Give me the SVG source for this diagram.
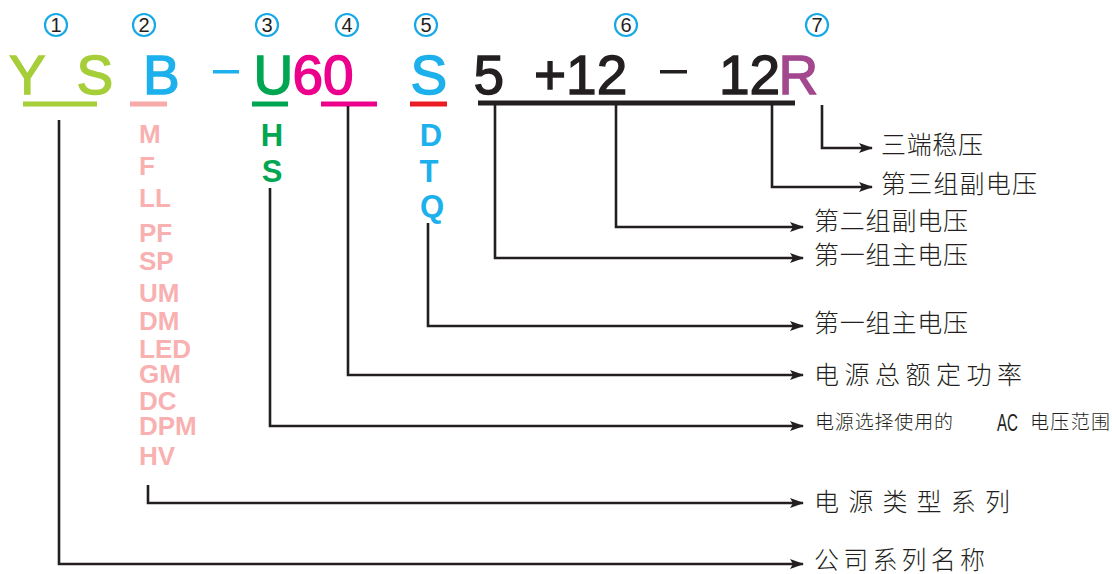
<svg xmlns="http://www.w3.org/2000/svg" width="1112" height="574" viewBox="0 0 1112 574">
<style>
.big{font-family:"Liberation Sans",Arial,sans-serif;font-size:55px;stroke-width:1.4;paint-order:stroke}
.opt{font-family:"Liberation Sans",Arial,sans-serif;font-weight:bold}
.pink{fill:#f8b0b0;font-size:26px}
.num{font-family:"Liberation Sans",Arial,sans-serif;font-size:20px;fill:#231f20;text-anchor:middle}
.ring{fill:none;stroke:#16a9e5;stroke-width:2.2}
.lbl{font-family:"Noto Sans CJK SC","Liberation Sans",sans-serif;font-size:25px;fill:#231f20;font-weight:300}
.sm{font-size:19px}
.conn{fill:none;stroke:#231f20;stroke-width:2.6}
</style>
<defs>
<marker id="ah" markerWidth="14" markerHeight="10" refX="13" refY="5" orient="auto" markerUnits="userSpaceOnUse">
<path d="M0,0 L14,5 L0,10 L3,5 Z" fill="#231f20"/>
</marker>
</defs>
<rect width="1112" height="574" fill="#fff"/>

<g id="numbers">
<circle class="ring" cx="56" cy="25" r="11"/><text class="num" x="56" y="32">1</text>
<circle class="ring" cx="144" cy="25" r="11"/><text class="num" x="144" y="32">2</text>
<circle class="ring" cx="267" cy="25" r="11"/><text class="num" x="267" y="32">3</text>
<circle class="ring" cx="347" cy="25" r="11"/><text class="num" x="347" y="32">4</text>
<circle class="ring" cx="426" cy="25" r="11"/><text class="num" x="426" y="32">5</text>
<circle class="ring" cx="626" cy="25" r="11"/><text class="num" x="626" y="32">6</text>
<circle class="ring" cx="817" cy="25" r="11"/><text class="num" x="817" y="32">7</text>
</g>

<g id="code">
<text class="big" x="9" y="94" fill="#a6ce39" stroke="#a6ce39">Y</text>
<text class="big" x="76.5" y="94" fill="#a6ce39" stroke="#a6ce39">S</text>
<rect x="23" y="101.5" width="74" height="5" fill="#a6ce39"/>
<text class="big" x="143" y="94" fill="#1cb0ec" stroke="#1cb0ec">B</text>
<rect x="130" y="101.5" width="37" height="5" fill="#f7aaa9"/>
<rect x="213" y="70" width="26" height="3.5" fill="#1cb0ec"/>
<text class="big" x="253.5" y="94" fill="#00a651" stroke="#00a651">U</text>
<rect x="252" y="101.5" width="36" height="5" fill="#00a651"/>
<text class="big" x="292.5" y="94" fill="#ec008c" stroke="#ec008c">60</text>
<rect x="321" y="101.5" width="56" height="5" fill="#ec008c"/>
<text class="big" x="410.5" y="94" fill="#1cb0ec" stroke="#1cb0ec">S</text>
<rect x="410" y="101.5" width="37" height="5" fill="#ed1c24"/>
<text class="big" x="473.5" y="94" fill="#231f20" stroke="#231f20">5</text>
<text class="big" x="534" y="94" fill="#231f20" stroke="#231f20">+12</text>
<rect x="660" y="70" width="27" height="3.5" fill="#231f20"/>
<text class="big" x="719" y="94" fill="#231f20" stroke="#231f20">12</text>
<text class="big" x="778.6" y="94" fill="#a3488e" stroke="#a3488e">R</text>
<rect x="478" y="100.5" width="317" height="5" fill="#231f20"/>
</g>

<g id="type-options" class="opt pink">
<text x="139" y="143">M</text>
<text x="139" y="175">F</text>
<text x="139" y="207">LL</text>
<text x="139" y="242">PF</text>
<text x="139" y="270">SP</text>
<text x="139" y="302">UM</text>
<text x="139" y="330">DM</text>
<text x="139" y="358">LED</text>
<text x="139" y="383">GM</text>
<text x="139" y="410">DC</text>
<text x="139" y="435">DPM</text>
<text x="139" y="465">HV</text>
</g>

<g id="ac-options" class="opt" fill="#00a651" font-size="31" text-anchor="middle">
<text x="272" y="146">H</text>
<text x="272" y="182">S</text>
</g>

<g id="output-options" class="opt" fill="#1cb0ec" font-size="31" text-anchor="middle">
<text x="431" y="146">D</text>
<text x="429" y="182">T</text>
<text x="432" y="217">Q</text>
</g>

<g id="connectors">
<path class="conn" d="M822,105 V148 H872" marker-end="url(#ah)"/>
<path class="conn" d="M772,105 V187 H872" marker-end="url(#ah)"/>
<path class="conn" d="M616,105 V227 H803" marker-end="url(#ah)"/>
<path class="conn" d="M495,105 V258 H803" marker-end="url(#ah)"/>
<path class="conn" d="M428,223 V326 H803" marker-end="url(#ah)"/>
<path class="conn" d="M348,106 V375 H803" marker-end="url(#ah)"/>
<path class="conn" d="M270,188 V426 H803" marker-end="url(#ah)"/>
<path class="conn" d="M148,485 V503 H803" marker-end="url(#ah)"/>
<path class="conn" d="M59,120 V564 H803" marker-end="url(#ah)"/>
</g>

<g id="labels">
<text class="lbl" x="881" y="154" textLength="102" lengthAdjust="spacing">三端稳压</text>
<text class="lbl" x="881" y="193" textLength="156" lengthAdjust="spacing">第三组副电压</text>
<text class="lbl" x="814" y="230" textLength="154" lengthAdjust="spacing">第二组副电压</text>
<text class="lbl" x="814" y="264" textLength="154" lengthAdjust="spacing">第一组主电压</text>
<text class="lbl" x="814" y="332" textLength="154" lengthAdjust="spacing">第一组主电压</text>
<text class="lbl" x="814" y="384" textLength="208" lengthAdjust="spacing">电源总额定功率</text>
<text class="lbl sm" x="815" y="429" textLength="138" lengthAdjust="spacing">电源选择使用的</text>
<text x="997" y="431" font-family="Liberation Sans Narrow,Liberation Sans,sans-serif" font-size="23" fill="#231f20" textLength="21" lengthAdjust="spacingAndGlyphs">AC</text>
<text class="lbl sm" x="1030" y="429" textLength="80" lengthAdjust="spacing">电压范围</text>
<text class="lbl" x="814" y="511" textLength="196" lengthAdjust="spacing">电源类型系列</text>
<text class="lbl" x="814" y="569" textLength="171" lengthAdjust="spacing">公司系列名称</text>
</g>
</svg>
